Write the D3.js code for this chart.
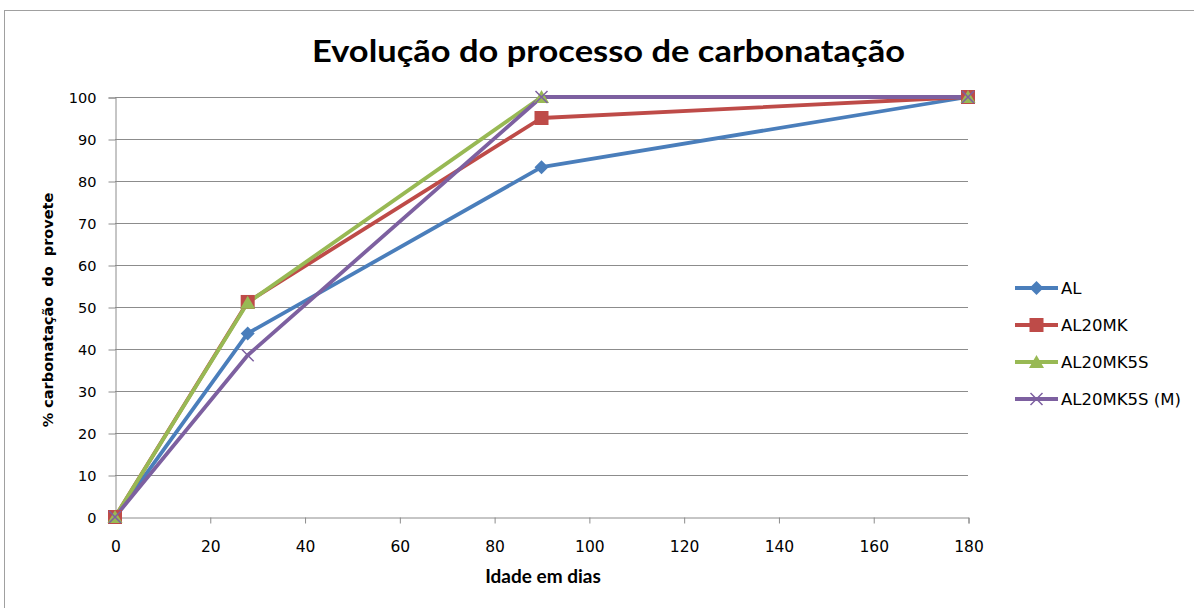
<!DOCTYPE html>
<html><head><meta charset="utf-8">
<script src="https://cdn.jsdelivr.net/npm/d3@7"></script>
<style>body{margin:0;background:#fff;}svg{display:block;}</style>
</head><body>
<svg id="c" width="1194" height="608"></svg>
<script>
const days = [0, 28, 90, 180];
const seriesNames = ["AL", "AL20MK", "AL20MK5S", "AL20MK5S (M)"];
const valsAL = [0, 43.7, 83.3, 100];
const valsAL20MK = [0, 51.2, 95, 100];
const valsAL20MK5S = [0, 51, 100, 100];
const valsAL20MK5SM = [0, 38.5, 100, 100];
const xTicks = [0, 20, 40, 60, 80, 100, 120, 140, 160, 180];
const yTicks = [0, 10, 20, 30, 40, 50, 60, 70, 80, 90, 100];
const colors = ["#4A7EBB", "#BE4B48", "#98B954", "#7D60A0"];
const symbolsT = ["diamond", "square", "triangle", "x"];

const allVals = [valsAL, valsAL20MK, valsAL20MK5S, valsAL20MK5SM];
const series = seriesNames.map((n, i) => ({name: n, color: colors[i], sym: symbolsT[i],
  pts: days.map((d, j) => ({x: d, y: allVals[i][j]}))}));

const svg = d3.select("#c");
svg.append("rect").attr("x", 4.5).attr("y", 10.5).attr("width", 1200).attr("height", 620)
  .attr("fill", "#fff").attr("stroke", "#a0a0a0").attr("stroke-width", 1);

const x = d3.scaleLinear().domain([0, 180]).range([115, 968]);
const y = d3.scaleLinear().domain([0, 100]).range([517, 97]);

// gridlines
svg.append("g").selectAll("line").data(yTicks.filter(t => t > 0)).join("line")
  .attr("x1", x(0)).attr("x2", x(180)).attr("y1", d => y(d) + 0.5).attr("y2", d => y(d) + 0.5)
  .attr("stroke", "#8c8c8c").attr("stroke-width", 1);

const tickFont = "'DejaVu Sans', Verdana, sans-serif";
const yAxis = svg.append("g").attr("transform", `translate(${x(0) + 0.5},0.5)`)
  .call(d3.axisLeft(y).tickValues(yTicks).tickSize(7).tickPadding(12));
yAxis.selectAll("text").attr("font-family", tickFont).attr("font-size", 14.5).attr("fill", "#000");
yAxis.selectAll("line, path").attr("stroke", "#8c8c8c");

const xAxis = svg.append("g").attr("transform", `translate(0.5,${y(0) + 0.5})`)
  .call(d3.axisBottom(x).tickValues(xTicks).tickSize(6).tickPadding(17));
xAxis.selectAll("text").attr("font-family", tickFont).attr("font-size", 15.5).attr("fill", "#000");
xAxis.selectAll("line, path").attr("stroke", "#8c8c8c");

// title
svg.append("text").attr("x", 608.5).attr("y", 62).attr("text-anchor", "middle")
  .attr("font-family", "Lato, 'Open Sans', sans-serif").attr("font-weight", "bold").attr("font-size", 31)
  .attr("textLength", 593).attr("lengthAdjust", "spacingAndGlyphs")
  .attr("fill", "#000").text("Evolução do processo de carbonatação");

svg.append("text").attr("x", 543).attr("y", 583).attr("text-anchor", "middle")
  .attr("font-family", "Lato, 'Open Sans', sans-serif").attr("font-weight", "bold").attr("font-size", 19)
  .attr("fill", "#000").text("Idade em dias");

svg.append("text").attr("transform", "translate(53,310) rotate(-90)").attr("text-anchor", "middle")
  .attr("font-family", tickFont).attr("font-weight", "bold").attr("font-size", 14.5)
  .style("white-space", "pre")
  .attr("fill", "#000").text("% carbonatação  do  provete");

const line = d3.line().x(d => x(d.x)).y(d => y(d.y));

function marker(g, sym, color, cx, cy) {
  if (sym === "x") {
    const s = 6;
    g.append("path").attr("d", `M${cx - s},${cy - s}L${cx + s},${cy + s}M${cx - s},${cy + s}L${cx + s},${cy - s}`)
      .attr("stroke", color).attr("stroke-width", 1.5).attr("fill", "none");
  } else if (sym === "diamond") {
    const s = 7;
    g.append("path").attr("d", `M${cx},${cy - s}L${cx + s},${cy}L${cx},${cy + s}L${cx - s},${cy}Z`).attr("fill", color);
  } else if (sym === "square") {
    const s = 7;
    g.append("rect").attr("x", cx - s).attr("y", cy - s).attr("width", 2 * s).attr("height", 2 * s).attr("fill", color);
  } else {
    g.append("path").attr("d", `M${cx},${cy - 7}L${cx + 7.5},${cy + 6}L${cx - 7.5},${cy + 6}Z`).attr("fill", color);
  }
}

series.forEach(s => {
  svg.append("path").datum(s.pts).attr("d", line).attr("fill", "none")
    .attr("stroke", s.color).attr("stroke-width", 3.8).attr("stroke-linejoin", "round");
});
series.forEach(s => {
  const g = svg.append("g");
  s.pts.forEach(p => marker(g, s.sym, s.color, x(p.x), y(p.y)));
});

// legend
const legY = [288, 325, 362, 399];
series.forEach((s, i) => {
  const g = svg.append("g");
  g.append("line").attr("x1", 1015).attr("x2", 1058).attr("y1", legY[i]).attr("y2", legY[i])
    .attr("stroke", s.color).attr("stroke-width", 3.8);
  marker(g, s.sym, s.color, 1036.5, legY[i]);
  g.append("text").attr("x", 1061).attr("y", legY[i] + 6).attr("font-family", tickFont)
    .attr("font-size", 16.5).attr("fill", "#000").text(s.name);
});
</script>
</body></html>
